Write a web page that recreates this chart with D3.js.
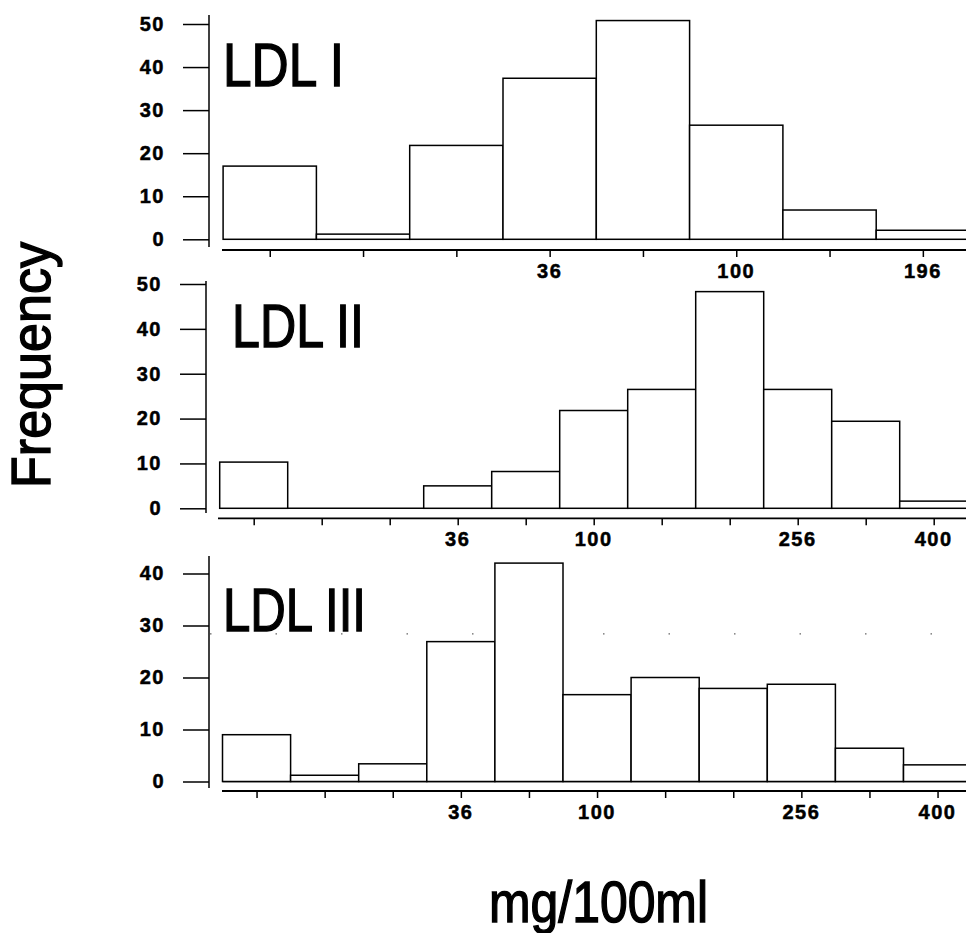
<!DOCTYPE html>
<html>
<head>
<meta charset="utf-8">
<script src="https://cdn.jsdelivr.net/npm/d3@7"></script>
<style>
  html, body { margin: 0; padding: 0; background: #fff; }
  svg { display: block; }
</style>
</head>
<body>
<svg id="chart" width="966" height="933"></svg>
<script>
// Histogram bin edges on the square-root scale (sqrt of mg/100ml)
const edgesLDL1 = [-1, 1, 3, 5, 7, 9, 11, 13, 15];
const edgesLDL2 = [-1, 1, 3, 5, 7, 9, 11, 13, 15, 17, 19, 21];
const edgesLDL3 = [-1, 1, 3, 5, 7, 9, 11, 13, 15, 17, 19, 21];

// Frequencies per bin
const countsLDL1 = [17, 1.2, 21.8, 37.4, 50.8, 26.5, 6.8, 2.1];
const countsLDL2 = [10.3, 0, 0, 5, 8.2, 21.8, 26.5, 48.3, 26.5, 19.4, 1.6];
const countsLDL3 = [9, 1.2, 3.4, 26.9, 42, 16.7, 20, 17.9, 18.7, 6.4, 3.2];

// x-axis ticks (sqrt units) and their printed mg/100ml labels
const xTicksLDL1 = [0, 2, 4, 6, 8, 10, 12, 14];
const xTicksLDL23 = [0, 2, 4, 6, 8, 10, 12, 14, 16, 18, 20];
const xLabelPosLDL1 = [6, 10, 14];
const xLabelTextLDL1 = ["36", "100", "196"];
const xLabelPosLDL23 = [6, 10, 16, 20];
const xLabelTextLDL23 = ["36", "100", "256", "400"];

// y-axis ticks
const yTicksLDL12 = [0, 10, 20, 30, 40, 50];
const yTicksLDL3 = [0, 10, 20, 30, 40];

const panelTitles = ["LDL I", "LDL II", "LDL III"];

const svg = d3.select("#chart");
const FONT = "'Liberation Sans', Arial, sans-serif";

// Panel geometry
const panels = [
  {
    title: panelTitles[0], edges: edgesLDL1, counts: countsLDL1,
    xTicks: xTicksLDL1, labPos: xLabelPosLDL1, labText: xLabelTextLDL1, yTicks: yTicksLDL12,
    xDom: [0, 14], xRange: [269.75, 269.75 + 46.65 * 14],
    yDom: [0, 50], yRange: [239.3, 24],
    yAxisX: 209, yAxisSpan: [15, 247],
    xAxisY: 250, xAxisStart: 222,
    titleX: 223, titleY: 86, titleLen: 121
  },
  {
    title: panelTitles[1], edges: edgesLDL2, counts: countsLDL2,
    xTicks: xTicksLDL23, labPos: xLabelPosLDL23, labText: xLabelTextLDL23, yTicks: yTicksLDL12,
    xDom: [0, 20], xRange: [253.7, 253.7 + 34.0 * 20],
    yDom: [0, 50], yRange: [508.3, 284],
    yAxisX: 206, yAxisSpan: [281, 513],
    xAxisY: 518.3, xAxisStart: 218,
    titleX: 232, titleY: 346.7, titleLen: 132
  },
  {
    title: panelTitles[2], edges: edgesLDL3, counts: countsLDL3,
    xTicks: xTicksLDL23, labPos: xLabelPosLDL23, labText: xLabelTextLDL23, yTicks: yTicksLDL3,
    xDom: [0, 20], xRange: [256.55, 256.55 + 34.05 * 20],
    yDom: [0, 40], yRange: [781.5, 573.5],
    yAxisX: 209, yAxisSpan: [556, 788],
    xAxisY: 791, xAxisStart: 222,
    titleX: 223, titleY: 631, titleLen: 143,
    dotted: 28.4
  }
];

panels.forEach(p => {
  const x = d3.scaleLinear().domain(p.xDom).range(p.xRange);
  const y = d3.scaleLinear().domain(p.yDom).range(p.yRange);
  const g = svg.append("g");

  const bins = p.counts.map((c, i) => ({ x0: p.edges[i], x1: p.edges[i + 1], n: c }));

  // faint dotted reference row
  if (p.dotted !== undefined) {
    g.append("line")
      .attr("x1", p.yAxisX + 1).attr("x2", 966)
      .attr("y1", y(p.dotted)).attr("y2", y(p.dotted))
      .attr("stroke", "#666").attr("stroke-width", 1.2)
      .attr("stroke-dasharray", "1.5 64");
  }

  // baseline under the bars
  g.append("line")
    .attr("x1", x(p.edges[0])).attr("x2", x(p.edges[p.edges.length - 1]))
    .attr("y1", y(0)).attr("y2", y(0))
    .attr("stroke", "#000").attr("stroke-width", 1.5);

  // bars
  g.selectAll("rect.bar")
    .data(bins.filter(b => b.n > 0))
    .join("rect")
    .attr("class", "bar")
    .attr("x", b => x(b.x0))
    .attr("width", b => x(b.x1) - x(b.x0))
    .attr("y", b => y(b.n))
    .attr("height", b => y(0) - y(b.n))
    .attr("fill", "#fff")
    .attr("stroke", "#000")
    .attr("stroke-width", 1.5);

  // y axis
  const yAxis = d3.axisLeft(y).tickValues(p.yTicks).tickSize(26).tickPadding(18)
    .tickFormat(d3.format("d"));
  const ya = g.append("g").attr("transform", `translate(${p.yAxisX},0)`).call(yAxis);
  ya.select(".domain").remove();
  ya.selectAll(".tick line").attr("stroke", "#000").attr("stroke-width", 1.5);
  ya.selectAll(".tick text")
    .attr("font-family", FONT).attr("font-size", 20).attr("font-weight", "bold")
    .attr("letter-spacing", 1.5).attr("fill", "#000")
    .attr("stroke", "#000").attr("stroke-width", 0.5);
  g.append("line")
    .attr("x1", p.yAxisX).attr("x2", p.yAxisX)
    .attr("y1", p.yAxisSpan[0]).attr("y2", p.yAxisSpan[1])
    .attr("stroke", "#000").attr("stroke-width", 1.5);

  // x axis
  const xAxis = d3.axisBottom(x).tickValues(p.xTicks).tickSize(7).tickFormat(() => "");
  const xa = g.append("g").attr("transform", `translate(0,${p.xAxisY})`).call(xAxis);
  xa.select(".domain").remove();
  xa.selectAll(".tick line").attr("stroke", "#000").attr("stroke-width", 1.5);
  g.append("line")
    .attr("x1", p.xAxisStart).attr("x2", 966)
    .attr("y1", p.xAxisY).attr("y2", p.xAxisY)
    .attr("stroke", "#000").attr("stroke-width", 1.8);

  g.selectAll("text.xlab")
    .data(p.labPos)
    .join("text")
    .attr("class", "xlab")
    .attr("x", d => x(d))
    .attr("y", p.xAxisY + 28)
    .attr("text-anchor", "middle")
    .attr("font-family", FONT).attr("font-size", 20).attr("font-weight", "bold")
    .attr("letter-spacing", 1.5)
    .attr("stroke", "#000").attr("stroke-width", 0.5)
    .text((d, i) => p.labText[i]);

  // panel title
  g.append("text")
    .attr("x", p.titleX).attr("y", p.titleY)
    .attr("font-family", FONT).attr("font-size", 62)
    .attr("textLength", p.titleLen).attr("lengthAdjust", "spacingAndGlyphs")
    .attr("stroke", "#000").attr("stroke-width", 1.4)
    .text(p.title);
});

// shared axis titles
svg.append("text")
  .attr("transform", "translate(50,365) rotate(-90)")
  .attr("text-anchor", "middle")
  .attr("font-family", FONT).attr("font-size", 56)
  .attr("textLength", 246).attr("lengthAdjust", "spacingAndGlyphs")
  .attr("stroke", "#000").attr("stroke-width", 1.4)
  .text("Frequency");

svg.append("text")
  .attr("x", 489).attr("y", 921.5)
  .attr("font-family", FONT).attr("font-size", 58)
  .attr("textLength", 219).attr("lengthAdjust", "spacingAndGlyphs")
  .attr("stroke", "#000").attr("stroke-width", 1.4)
  .text("mg/100ml");
</script>
</body>
</html>
